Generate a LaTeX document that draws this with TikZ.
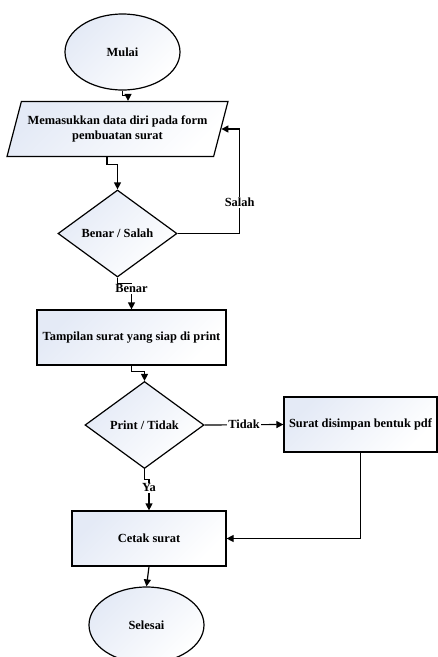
\documentclass[tikz,border=0pt]{standalone}
\usepackage{fontspec}
\setmainfont{Liberation Serif}
\usetikzlibrary{shapes.geometric,arrows.meta}
\definecolor{shadeblue}{HTML}{E4EAF6}
\tikzset{
  base/.style={draw=black, line width=1.2pt, top color=shadeblue, bottom color=white, shading angle=45,
    font=\fontsize{12.4}{15}\selectfont\bfseries, align=center, inner sep=0pt},
  term/.style={base, ellipse, minimum width=115pt, minimum height=76pt},
  procbox/.style={base, rectangle, minimum height=55pt},
  decide/.style={base, diamond, aspect=1.37, minimum width=119pt, minimum height=87pt},
  iobox/.style={base, trapezium, trapezium left angle=63, trapezium right angle=117,
    trapezium stretches=true, minimum width=221pt, minimum height=55pt},
  conn/.style={line width=1.2pt, -{Triangle[length=7pt,width=7pt]}},
  lbl/.style={fill=white, inner sep=1pt, font=\fontsize{12.4}{15}\selectfont\bfseries}
}
\begin{document}
\begin{tikzpicture}[x=1pt,y=-1pt]
\useasboundingbox (0,0) rectangle (438,657);
\clip (0,0) rectangle (438,657);
\node[term] (mulai) at (122.5,52) {Mulai};
\node[iobox] (par) at (117.5,129) {Memasukkan data diri pada form\\pembuatan surat};
\node[decide] (d1) at (117.5,233.5) {Benar / Salah};
\node[procbox, minimum width=189pt] (r2) at (131.5,337.5) {Tampilan surat yang siap di print};
\node[decide] (d2) at (144.5,425) {Print / Tidak};
\node[procbox, minimum width=153pt] (r3) at (360.5,424.5) {Surat disimpan bentuk pdf};
\node[procbox, minimum width=154pt] (r4) at (149,538.5) {Cetak surat};
\node[term] (sel) at (146.5,625) {Selesai};

\draw[conn] (mulai.south) -- ++(0,5) -| ([xshift=10.5pt]par.north);
\draw[conn] ([xshift=-10.5pt]par.south) -- ++(0,7) -| (d1.north);
\draw[conn] (d1.east) -- ++(62,0) |- (par.east) node[lbl, pos=0.15] {Salah};
\draw[conn] (d1.south) -- ++(0,6) -| (r2.north) node[lbl, pos=0.6] {Benar};
\draw[conn] (r2.south) -- ++(0,6) -| (d2.north);
\draw[conn] (d2.east) -- (r3.west) node[lbl, midway] {Tidak};
\draw[conn] (d2.south) -- ++(0,10) -| (r4.north) node[lbl, pos=0.64] {Ya};
\draw[conn] (r3.south) |- (r4.east);
\draw[conn] (r4.south) -- (sel.north);
\end{tikzpicture}
\end{document}
